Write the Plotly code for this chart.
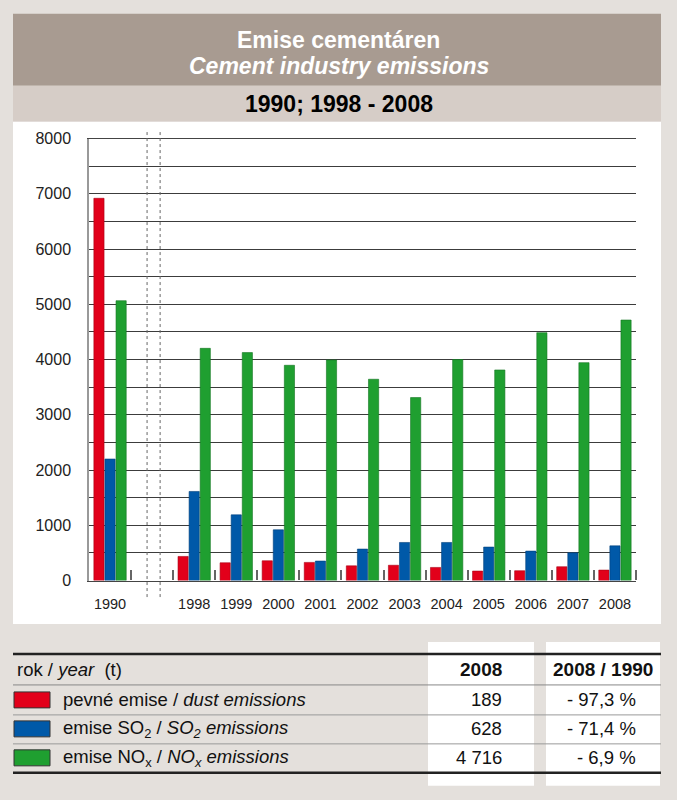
import plotly.graph_objects as go

# ---------------- data ----------------
years = ["1990", "1998", "1999", "2000", "2001", "2002", "2003", "2004", "2005", "2006", "2007", "2008"]
slot = [0, 2, 3, 4, 5, 6, 7, 8, 9, 10, 11, 12]   # slot 1 is the break between 1990 and 1998
dust = [6920, 437, 322, 358, 329, 266, 277, 238, 172, 178, 250, 189]
so2 = [2200, 1613, 1190, 919, 353, 570, 690, 690, 606, 533, 503, 628]
nox = [5066, 4204, 4127, 3897, 3993, 3644, 3313, 4000, 3812, 4488, 3945, 4716]

series_names = ["pevné emise / <i>dust emissions</i>",
                "emise SO<sub>2</sub> / <i>SO<sub>2</sub> emissions</i>",
                "emise NO<sub>x</sub> / <i>NO<sub>x</sub> emissions</i>"]
series_colors = ["#e2001a", "#0059a8", "#1f9f30"]
series_edges = ["#a80014", "#003f7a", "#147522"]
table_2008 = ["189", "628", "4 716"]
table_change = ["- 97,3 %", "- 71,4 %", "- 6,9 %"]
y_ticks = [0, 1000, 2000, 3000, 4000, 5000, 6000, 7000, 8000]

FONT = "Liberation Sans, Arial, sans-serif"
W, H = 677, 800


def px(x):
    return x / W


def py(y):
    # target pixel row -> paper fraction (compensates the vertical offset seen in the capture)
    return 1 - ((y - 8.2) / 0.98) / H


fig = go.Figure()
for vals, name, col, edge in zip([dust, so2, nox], series_names, series_colors, series_edges):
    fig.add_trace(go.Bar(x=slot, y=vals, name=name, marker=dict(color=col, line=dict(color=edge, width=0.6)),
                         showlegend=False))

shapes = []
annotations = []


def note(text, x, y, size, color="#111", xanchor="center"):
    annotations.append(dict(text=text, x=x, y=y, xref="paper", yref="paper", xanchor=xanchor, yanchor="middle",
                            showarrow=False, font=dict(family=FONT, size=size, color=color)))


# header bands
shapes.append(dict(type="rect", xref="paper", yref="paper", x0=px(13), x1=px(661), y0=py(86), y1=py(14),
                   fillcolor="#a89b91", line=dict(width=0), layer="below"))
shapes.append(dict(type="rect", xref="paper", yref="paper", x0=px(13), x1=px(661), y0=py(122), y1=py(86),
                   fillcolor="#d6cdc7", line=dict(width=0), layer="below"))
shapes.append(dict(type="rect", xref="paper", yref="paper", x0=px(13), x1=px(661), y0=py(625), y1=py(122),
                   fillcolor="white", line=dict(width=0), layer="below"))
note("<b>Emise cementáren</b>", 0.5, py(40), 23, "white")
note("<b><i>Cement industry emissions</i></b>", 0.5, py(66), 23, "white")
note("<b>1990; 1998 - 2008</b>", 0.5, py(104), 23, "black")

# break markers in the empty slot
for xb in [0.88, 1.19]:
    shapes.append(dict(type="line", xref="x", yref="paper", x0=xb, x1=xb, y0=py(598), y1=py(132),
                       line=dict(color="#666666", width=1, dash="dot")))

# ---------------- table ----------------
shapes.append(dict(type="rect", xref="paper", yref="paper", x0=px(428), x1=px(534), y0=py(787), y1=py(643),
                   fillcolor="white", line=dict(width=0), layer="below"))
shapes.append(dict(type="rect", xref="paper", yref="paper", x0=px(546), x1=px(660), y0=py(787), y1=py(643),
                   fillcolor="white", line=dict(width=0), layer="below"))
for yl, wdt, col in [(655, 2.5, "#222222"), (686, 1, "#888888"), (716, 1, "#999999"), (745, 1, "#999999"),
                     (774, 2.5, "#222222")]:
    shapes.append(dict(type="line", xref="paper", yref="paper", x0=px(13), x1=px(661), y0=py(yl), y1=py(yl),
                       line=dict(color=col, width=wdt)))

note("rok / <i>year</i>  (t)", px(15), py(671), 18.5, xanchor="left")
note("<b>2008</b>", px(504), py(671), 19, xanchor="right")
note("<b>2008 / 1990</b>", px(603), py(671), 19)

row_y = [701, 730, 759]
for i in range(3):
    yc = row_y[i]
    shapes.append(dict(type="rect", xref="paper", yref="paper", x0=px(14), x1=px(50), y0=py(yc + 8), y1=py(yc - 8),
                       fillcolor=series_colors[i], line=dict(color="#333333", width=1)))
    note(series_names[i], px(61), py(yc), 18.5, xanchor="left")
    note(table_2008[i], px(504), py(yc), 18.5, xanchor="right")
    note(table_change[i], px(638), py(yc), 18.5, xanchor="right")

fig.update_layout(
    width=W, height=H, margin=dict(l=0, r=0, t=0, b=0),
    paper_bgcolor="#e4e0dc", plot_bgcolor="white",
    barmode="group", bargap=0.21, bargroupgap=0.08,
    shapes=shapes, annotations=annotations,
    font=dict(family=FONT, color="#222"),
    xaxis=dict(domain=[px(89), px(636)], range=[-0.5, 12.5], tickmode="array",
               tickvals=slot, ticktext=years, ticks="", showgrid=False, zeroline=False,
               showline=True, linecolor="#444444", linewidth=1.2, mirror=True,
               tickfont=dict(family=FONT, size=14.5, color="#222"), ticklabelstandoff=10,
               minor=dict(tickmode="array", tickvals=[0.5 + k for k in range(13)], ticks="inside",
                          ticklen=10, tickwidth=2, tickcolor="#666666", showgrid=False)),
    yaxis=dict(domain=[py(581.5), py(139)], range=[0, 8000], tickmode="array", tickvals=y_ticks,
               ticks="", showgrid=True, gridcolor="#3c3c3c", gridwidth=1, zeroline=False,
               showline=True, linecolor="#999999", linewidth=1.5,
               tickfont=dict(family=FONT, size=16, color="#222"), ticklabelstandoff=13,
               minor=dict(dtick=500, showgrid=True, gridcolor="#3c3c3c", gridwidth=1)),
)

fig.write_html("out.html")
